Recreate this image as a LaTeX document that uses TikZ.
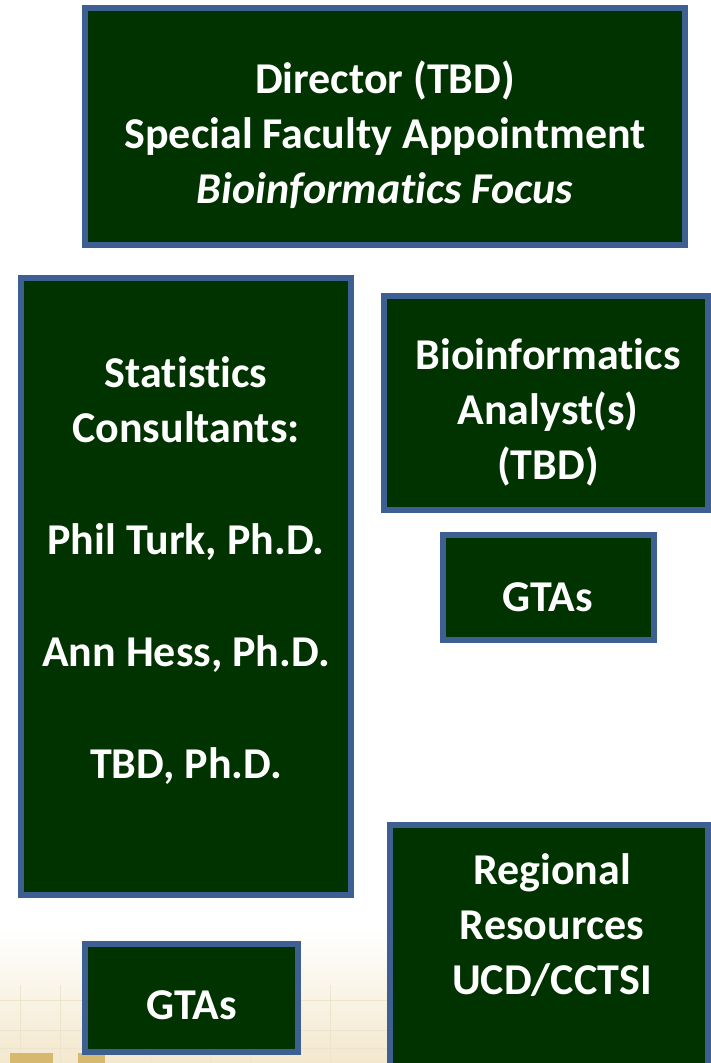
\documentclass[tikz,border=0pt]{standalone}
\usepackage{fontspec}
\setmainfont{Carlito}[Ligatures={NoCommon}]
\definecolor{boxgreen}{RGB}{0,51,0}
\definecolor{boxblue}{RGB}{61,95,145}
\definecolor{cream}{RGB}{243,232,206}
\definecolor{gridtan}{RGB}{238,228,204}
\definecolor{goldblock}{RGB}{214,184,110}
\begin{document}
\begin{tikzpicture}[x=1pt,y=-1pt,
  box/.style={draw=boxblue, line width=6pt, fill=boxgreen, inner sep=0pt, outer sep=0pt},
  txt/.style={text=white, font=\fontsize{44}{55}\selectfont\bfseries, align=center, inner sep=0pt}]
\useasboundingbox (0,0) rectangle (711,1063);
\clip (0,0) rectangle (711,1063);
% faint background texture at the bottom
\shade[top color=white, bottom color=cream] (0,930) rectangle (711,1063);
\foreach \yy in {1000,1030,1048} \draw[gridtan, line width=1pt] (0,\yy) -- (711,\yy);
\foreach \xx in {20,60,150,210,250,330} \draw[gridtan, line width=0.8pt] (\xx,985) -- (\xx,1063);
\fill[goldblock] (10,1053) rectangle (53,1063);
\fill[goldblock] (78,1053) rectangle (105,1063);
% boxes
\node[box, minimum width=600pt, minimum height=237pt] (dir) at (385,126.5) {};
\node[box, minimum width=330pt, minimum height=617pt] (stat) at (186,586.5) {};
\node[box, minimum width=324pt, minimum height=214pt] (bio) at (546,403) {};
\node[box, minimum width=211pt, minimum height=105pt] (gtar) at (548.5,587.5) {};
\node[box, minimum width=318pt, minimum height=255pt] (reg) at (549,952.5) {};
\node[box, minimum width=213pt, minimum height=108pt] (gtal) at (191.5,998) {};
% texts
\node[txt] (dirtxt) at (385,135) {Director (TBD)\\Special Faculty Appointment\\\textit{Bioinformatics Focus}};
\node[txt] (stattxt) at (186,571) {Statistics\\Consultants:\\[57pt]Phil Turk, Ph.D.\\[57pt]Ann Hess, Ph.D.\\[57pt]TBD, Ph.D.};
\node[txt] (biotxt) at (548,412) {Bioinformatics\\Analyst(s)\\(TBD)};
\node[txt] (gtartxt) at (548,597) {GTAs};
\node[txt] (regtxt) at (552,925) {Regional\\Resources\\UCD/CCTSI};
\node[txt] (gtaltxt) at (192,1005) {GTAs};
\end{tikzpicture}
\end{document}
